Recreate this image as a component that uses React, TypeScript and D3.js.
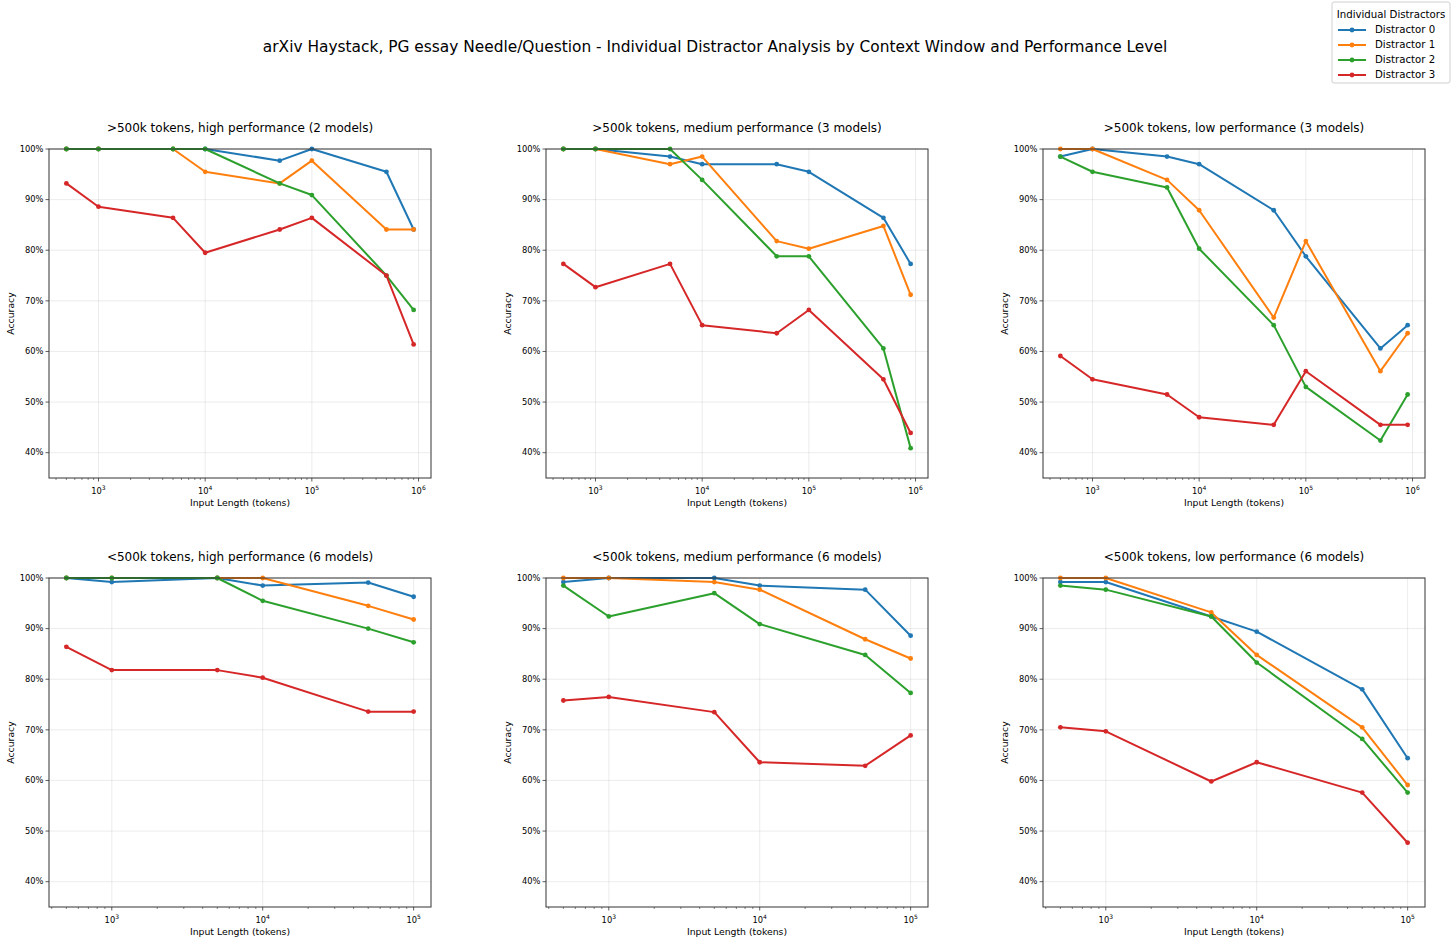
import { line, scaleLog, scaleLinear } from "d3";

const suptitle =
  "arXiv Haystack, PG essay Needle/Question - Individual Distractor Analysis by Context Window and Performance Level";

const distractors = ["Distractor 0", "Distractor 1", "Distractor 2", "Distractor 3"];
const colors = ["#1f77b4", "#ff7f0e", "#2ca02c", "#d62728"];

const lengthsLong = [500, 1000, 5000, 10000, 50000, 100000, 500000, 900000];
const lengthsShort = [500, 1000, 5000, 10000, 50000, 100000];

const panelTitles = [
  ">500k tokens, high performance (2 models)",
  ">500k tokens, medium performance (3 models)",
  ">500k tokens, low performance (3 models)",
  "<500k tokens, high performance (6 models)",
  "<500k tokens, medium performance (6 models)",
  "<500k tokens, low performance (6 models)",
];

// accuracy per distractor (rows) per input length
const longHigh = [
  [1.0, 1.0, 1.0, 1.0, 0.977, 1.0, 0.955, 0.841],
  [1.0, 1.0, 1.0, 0.955, 0.932, 0.977, 0.841, 0.841],
  [1.0, 1.0, 1.0, 1.0, 0.932, 0.909, 0.75, 0.682],
  [0.932, 0.886, 0.864, 0.795, 0.841, 0.864, 0.75, 0.614],
];
const longMedium = [
  [1.0, 1.0, 0.985, 0.97, 0.97, 0.955, 0.864, 0.773],
  [1.0, 1.0, 0.97, 0.985, 0.818, 0.803, 0.848, 0.712],
  [1.0, 1.0, 1.0, 0.939, 0.788, 0.788, 0.606, 0.409],
  [0.773, 0.727, 0.773, 0.652, 0.636, 0.682, 0.545, 0.439],
];
const longLow = [
  [0.985, 1.0, 0.985, 0.97, 0.879, 0.788, 0.606, 0.652],
  [1.0, 1.0, 0.939, 0.879, 0.667, 0.818, 0.561, 0.636],
  [0.985, 0.955, 0.924, 0.803, 0.652, 0.53, 0.424, 0.515],
  [0.591, 0.545, 0.515, 0.47, 0.455, 0.561, 0.455, 0.455],
];
const shortHigh = [
  [1.0, 0.992, 1.0, 0.985, 0.991, 0.963],
  [1.0, 1.0, 1.0, 1.0, 0.945, 0.918],
  [1.0, 1.0, 1.0, 0.955, 0.9, 0.873],
  [0.864, 0.818, 0.818, 0.803, 0.736, 0.736],
];
const shortMedium = [
  [0.992, 1.0, 1.0, 0.985, 0.977, 0.886],
  [1.0, 1.0, 0.992, 0.977, 0.879, 0.841],
  [0.985, 0.924, 0.97, 0.909, 0.848, 0.773],
  [0.758, 0.765, 0.735, 0.636, 0.629, 0.689],
];
const shortLow = [
  [0.992, 0.992, 0.924, 0.894, 0.78, 0.644],
  [1.0, 1.0, 0.932, 0.848, 0.705, 0.591],
  [0.985, 0.977, 0.924, 0.833, 0.682, 0.576],
  [0.705, 0.697, 0.598, 0.636, 0.576, 0.477],
];

const yTicks = [0.4, 0.5, 0.6, 0.7, 0.8, 0.9, 1.0];

const panels = [
  { xs: lengthsLong, series: longHigh },
  { xs: lengthsLong, series: longMedium },
  { xs: lengthsLong, series: longLow },
  { xs: lengthsShort, series: shortHigh },
  { xs: lengthsShort, series: shortMedium },
  { xs: lengthsShort, series: shortLow },
];

const W = 1456;
const H = 944;
const font = "DejaVu Sans, sans-serif";
const colLeft = [49, 546, 1043];
const rowTop = [149, 578];
const pw = 382;
const ph = 329;

const Panel = ({ idx }: { idx: number }) => {
  const { xs, series } = panels[idx];
  const left = colLeft[idx % 3];
  const top = rowTop[Math.floor(idx / 3)];
  const lo = Math.log10(xs[0]);
  const hi = Math.log10(xs[xs.length - 1]);
  const pad = (hi - lo) * 0.05;
  const x = scaleLog()
    .domain([Math.pow(10, lo - pad), Math.pow(10, hi + pad)])
    .range([0, pw]);
  const y = scaleLinear().domain([0.35, 1.0]).range([ph, 0]);
  const [d0, d1] = x.domain();
  const majors: number[] = [];
  const minors: number[] = [];
  for (let e = 2; e <= 6; e++) {
    for (let m = 1; m < 10; m++) {
      const v = m * Math.pow(10, e);
      if (v < d0 || v > d1) continue;
      if (m === 1) majors.push(v);
      else minors.push(v);
    }
  }
  const path = line<[number, number]>()
    .x((d) => x(d[0]))
    .y((d) => y(d[1]));

  return (
    <g transform={`translate(${left},${top})`}>
      <text
        x={pw / 2}
        y={-17}
        textAnchor="middle"
        fontSize={12}
        fontFamily={font}
      >
        {panelTitles[idx]}
      </text>
      {/* grid */}
      {majors.map((v) => (
        <line
          key={"gx" + v}
          x1={x(v)}
          x2={x(v)}
          y1={0}
          y2={ph}
          stroke="#b0b0b0"
          strokeOpacity={0.3}
          strokeWidth={0.8}
        />
      ))}
      {yTicks.map((v) => (
        <line
          key={"gy" + v}
          x1={0}
          x2={pw}
          y1={y(v)}
          y2={y(v)}
          stroke="#b0b0b0"
          strokeOpacity={0.3}
          strokeWidth={0.8}
        />
      ))}
      {/* series */}
      {series.map((vals, si) => {
        const pts = xs.map((xv, i) => [xv, vals[i]] as [number, number]);
        return (
          <g key={si}>
            <path
              d={path(pts) || ""}
              fill="none"
              stroke={colors[si]}
              strokeWidth={2}
              strokeLinejoin="round"
            />
            {pts.map((p, i) => (
              <circle
                key={i}
                cx={x(p[0])}
                cy={y(p[1])}
                r={2.4}
                fill={colors[si]}
              />
            ))}
          </g>
        );
      })}
      {/* frame */}
      <rect
        x={0}
        y={0}
        width={pw}
        height={ph}
        fill="none"
        stroke="#333"
        strokeWidth={1}
      />
      {/* y axis */}
      {yTicks.map((v) => (
        <g key={"yt" + v} transform={`translate(0,${y(v)})`}>
          <line x1={-3.5} x2={0} stroke="#333" strokeWidth={0.8} />
          <text
            x={-5.5}
            dy="0.33em"
            textAnchor="end"
            fontSize={8.3}
            fontFamily={font}
          >
            {Math.round(v * 100)}%
          </text>
        </g>
      ))}
      {/* x axis */}
      {minors.map((v) => (
        <line
          key={"mt" + v}
          x1={x(v)}
          x2={x(v)}
          y1={ph}
          y2={ph + 2}
          stroke="#333"
          strokeWidth={0.6}
        />
      ))}
      {majors.map((v) => (
        <g key={"xt" + v} transform={`translate(${x(v)},${ph})`}>
          <line y1={0} y2={3.5} stroke="#333" strokeWidth={0.8} />
          <text y={16} textAnchor="middle" fontSize={8.3} fontFamily={font}>
            10
            <tspan fontSize={6} dy={-4}>
              {Math.round(Math.log10(v))}
            </tspan>
          </text>
        </g>
      ))}
      <text
        x={pw / 2}
        y={ph + 28}
        textAnchor="middle"
        fontSize={9.3}
        fontFamily={font}
      >
        Input Length (tokens)
      </text>
      <text
        transform={`translate(${-35},${ph / 2}) rotate(-90)`}
        textAnchor="middle"
        fontSize={9.3}
        fontFamily={font}
      >
        Accuracy
      </text>
    </g>
  );
};

const Legend = () => {
  const lx = 1332;
  const ly = 2;
  return (
    <g>
      <rect
        x={lx}
        y={ly}
        width={118}
        height={81}
        rx={2}
        fill="white"
        stroke="#d0d0d0"
        strokeWidth={1}
      />
      <text
        x={lx + 59}
        y={ly + 16}
        textAnchor="middle"
        fontSize={10.2}
        fontFamily={font}
      >
        Individual Distractors
      </text>
      {distractors.map((name, i) => {
        const yy = ly + 28 + i * 15;
        return (
          <g key={name}>
            <line
              x1={lx + 6}
              x2={lx + 34}
              y1={yy}
              y2={yy}
              stroke={colors[i]}
              strokeWidth={2}
            />
            <circle cx={lx + 20} cy={yy} r={2.4} fill={colors[i]} />
            <text
              x={lx + 43}
              y={yy}
              dy="0.33em"
              fontSize={10.2}
              fontFamily={font}
            >
              {name}
            </text>
          </g>
        );
      })}
    </g>
  );
};

export default function App() {
  return (
    <div style={{ position: "absolute", left: 0, top: 0 }}>
      <svg width={W} height={H} style={{ display: "block", background: "white" }}>
        <text
          x={715}
          y={52}
          textAnchor="middle"
          fontSize={15.4}
          fontFamily={font}
        >
          {suptitle}
        </text>
        {panels.map((_, i) => (
          <Panel key={i} idx={i} />
        ))}
        <Legend />
      </svg>
    </div>
  );
}
